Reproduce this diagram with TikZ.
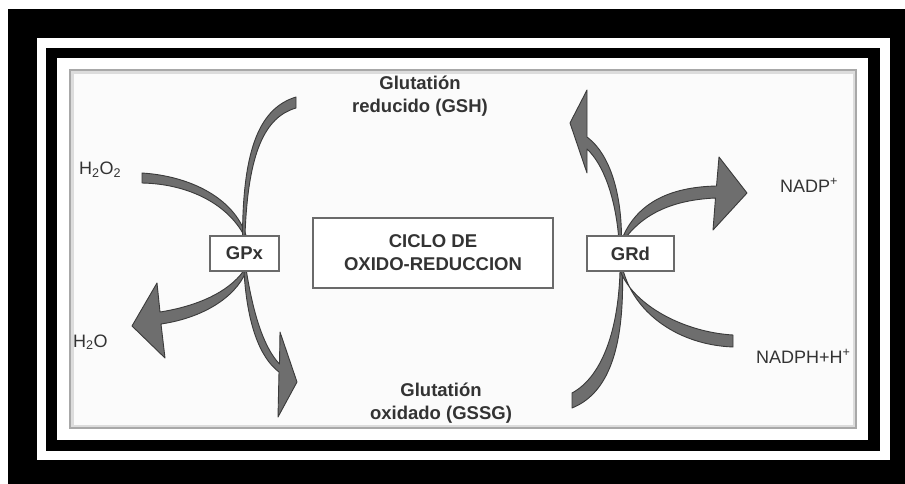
\documentclass[tikz,border=0pt]{standalone}
\usepackage{fontspec}
\setmainfont{Liberation Sans}
\usetikzlibrary{positioning,backgrounds}
\definecolor{Band}{HTML}{6E6E6E}
\definecolor{BandEdge}{HTML}{3A3A3A}
\definecolor{Ink}{HTML}{333333}
\definecolor{BoxEdge}{HTML}{6A6A6A}
\definecolor{Shade}{HTML}{A8A8A8}
\definecolor{Paper}{HTML}{FBFBFB}

\begin{document}
\begin{tikzpicture}[x=1pt,y=-1pt,
    e/.style={draw=BoxEdge,fill=white,line width=1.3pt,minimum height=35pt,inner sep=0pt,font=\fontsize{18.5}{23}\selectfont\bfseries,text=Ink},
    c/.style={e,minimum width=240pt,minimum height=70pt,align=center},
    t/.style={font=\fontsize{18.5}{23}\selectfont\bfseries,text=Ink,align=center,inner sep=0pt},
    s/.style={font=\fontsize{18}{22}\selectfont,text=Ink,inner sep=0pt,anchor=base west},
    b/.style={fill=Band,draw=BandEdge,line width=0.9pt,line join=round}]
    \useasboundingbox (0,0) rectangle (905,484);
    \node[e,minimum width=69pt] (gpx) at (244.5,253.5) {GPx};
    \node[e,minimum width=87pt] (grd) at (630.5,253.5) {GRd};
    \node[c] (ciclo) at (433,253) {CICLO DE\\OXIDO-REDUCCION};
    \node[t] (gsh) at (420,96) {Glutatión\\reducido (GSH)};
    \node[t] (gssg) at (441,403) {Glutatión\\oxidado (GSSG)};
    \node[s] (hoo) at (79,175) {H\textsubscript{2}O\textsubscript{2}};
    \node[s] (ho) at (73,347) {H\textsubscript{2}O};
    \node[s] (nadp) at (780,192) {NADP\textsuperscript{+}};
    \node[s] (nadph) at (756,363) {NADPH+H\textsuperscript{+}};
    \coordinate (p1) at (142,178);
    \coordinate (p2) at (296,102.5);
    \coordinate (p5) at (572,400.5);
    \coordinate (p8) at (733,341);
    \begin{scope}[on background layer]
    \fill[white] (0,0) rectangle (905,484);
    \fill[black] (8,9) rectangle (905,484);
    \fill[white] (37,38) rectangle (890,460);
    \fill[black] (46,48) rectangle (880,451);
    \fill[white] (57,58) rectangle (868,440);
    \fill[Shade] (69,69) rectangle (857,429);
    \fill[Shade!40] (71,71) rectangle (855,427);
    \fill[Paper] (74,74) rectangle (853,425);
    \draw[b] ([yshift=5pt]p1) .. controls (190,176) and (234,198) .. ([xshift=1.5pt]gpx.north) -- ([xshift=-0.5pt]gpx.north) .. controls (228,205) and (190,184) .. ([yshift=-5pt]p1) -- cycle;
    \draw[b] ([xshift=-2pt]gpx.north) .. controls (243,148) and (260,108) .. ([yshift=5.5pt]p2) -- ([yshift=-5.5pt]p2) .. controls (265,117) and (248,152) .. ([xshift=0.5pt]gpx.north) -- cycle;
    \draw[b] ([xshift=-1.5pt]gpx.south) .. controls (228,292) and (198,306) .. (160,312) -- (157,283) -- (132,326) -- (165,358) -- (161,324) .. controls (202,318) and (235,298) .. ([xshift=1.5pt]gpx.south) -- cycle;
    \draw[b] ([xshift=-0.5pt]gpx.south) .. controls (247,322) and (259,357) .. (279,372) -- (278,417) -- (297,382) -- (280,332) -- (279.5,364) .. controls (265,349) and (254,318) .. ([xshift=2pt]gpx.south) -- cycle;
    \draw[b] ([yshift=-7.5pt]p5) .. controls (612,392) and (624,340) .. ([xshift=-8pt]grd.south) -- ([xshift=-10.5pt]grd.south) .. controls (618,335) and (600,378) .. ([yshift=7.5pt]p5) -- cycle;
    \draw[b] ([xshift=-12pt]grd.north) .. controls (615,198) and (604,165) .. (587,149) -- (587,173) -- (570,123) -- (587,90) -- (587,137) .. controls (611,155) and (621,195) .. ([xshift=-9pt]grd.north) -- cycle;
    \draw[b] ([xshift=-7pt]grd.north) .. controls (638,204) and (668,187) .. (716.5,186) -- (719,157) -- (747,193) -- (713,230) -- (715.5,198) .. controls (672,200) and (645,214) .. ([xshift=-3pt]grd.north) -- cycle;
    \draw[b] ([yshift=6pt]p8) .. controls (683,332) and (634,305) .. ([xshift=-10pt]grd.south) -- ([xshift=-7pt]grd.south) .. controls (636,315) and (680,345) .. ([yshift=-6pt]p8) -- cycle;
    \end{scope}
\end{tikzpicture}
\end{document}
